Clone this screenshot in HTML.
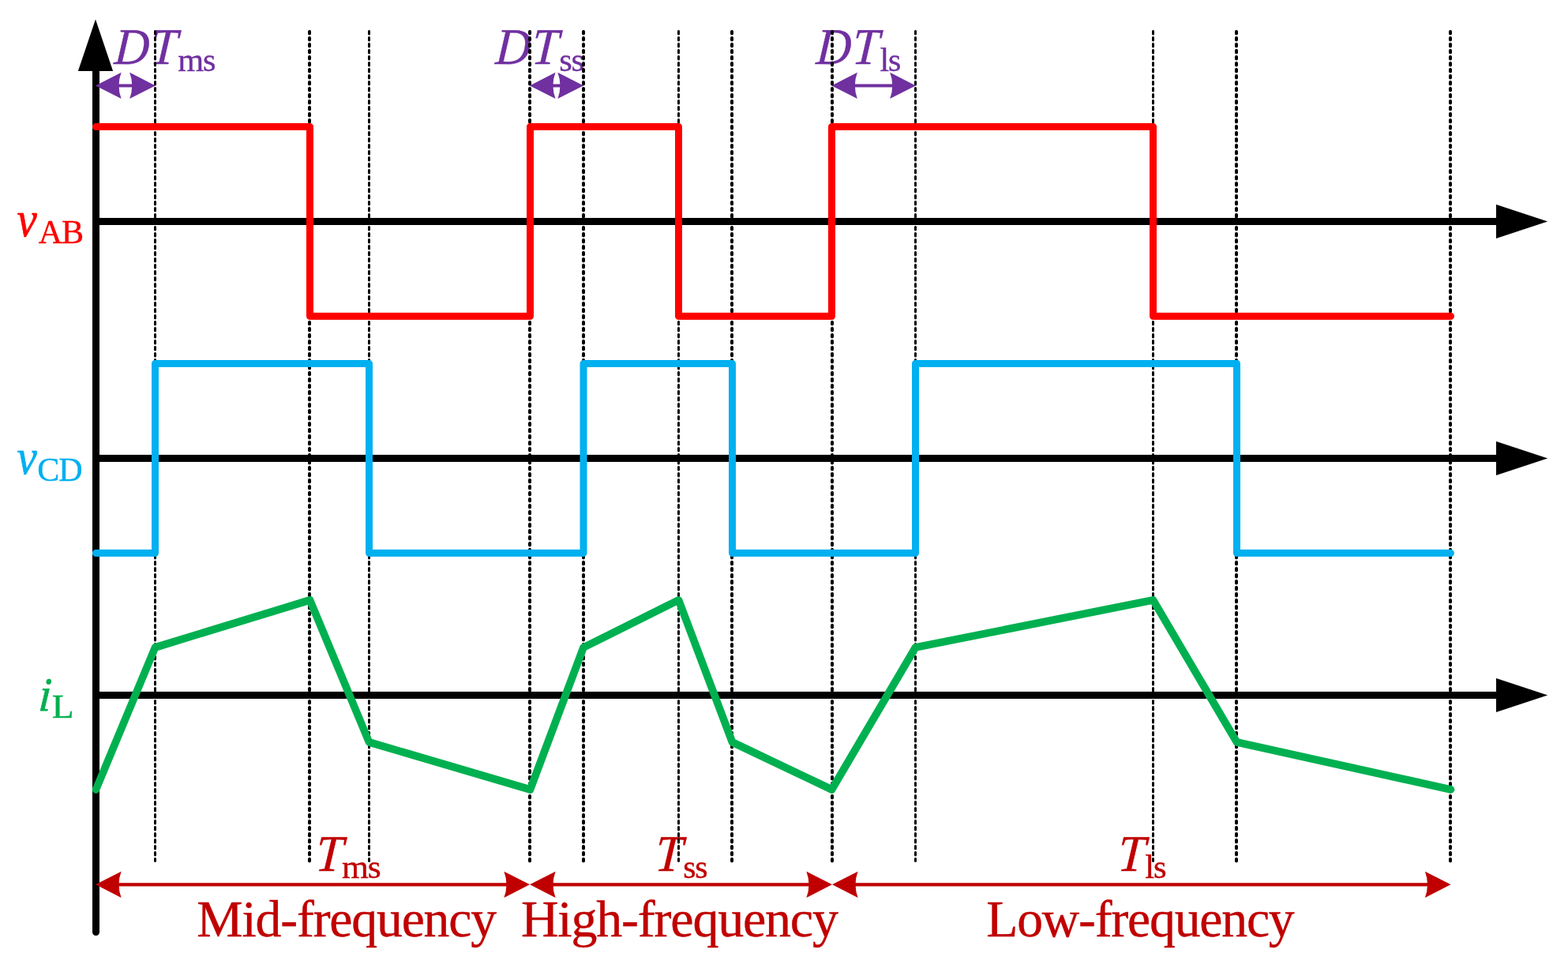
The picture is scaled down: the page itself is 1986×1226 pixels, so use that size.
<!DOCTYPE html>
<html lang="en">
<head>
<meta charset="utf-8">
<title>Waveforms</title>
<style>
html,body{margin:0;padding:0;background:#fff;}
body{width:1986px;height:1226px;overflow:hidden;}
svg{display:block;}
text{font-family:"Liberation Serif",serif;}
.i{font-style:italic;}
</style>
</head>
<body>
<svg width="1986" height="1226" viewBox="0 0 1986 1226">
<rect width="1986" height="1226" fill="#fff"/>
<g stroke="#000" stroke-width="9" fill="#000">
<line x1="121.5" y1="85" x2="121.5" y2="1180.6" stroke-linecap="round"/>
<polygon points="121,24.6 98.9,90 143.1,90" stroke="none"/>
<line x1="121.5" y1="280.5" x2="1900" y2="280.5"/>
<polygon points="1960.2,280.5 1895,258.9 1895,302.1" stroke="none"/>
<line x1="121.5" y1="580.5" x2="1900" y2="580.5"/>
<polygon points="1960.2,580.5 1895,558.9 1895,602.1" stroke="none"/>
<line x1="121.5" y1="880.5" x2="1900" y2="880.5"/>
<polygon points="1960.2,880.5 1895,858.9 1895,902.1" stroke="none"/>
</g>
<line x1="131.0" y1="108.4" x2="186.8" y2="108.4" stroke="#7030A0" stroke-width="4.0"/>
<path d="M121.0,108.4 L153.6,91.8 Q147.4,108.4 153.6,125.0 Z" fill="#7030A0"/>
<path d="M196.8,108.4 L164.2,91.8 Q170.4,108.4 164.2,125.0 Z" fill="#7030A0"/>
<line x1="680.9" y1="108.4" x2="729.0" y2="108.4" stroke="#7030A0" stroke-width="4.0"/>
<path d="M670.9,108.4 L703.5,91.8 Q697.3,108.4 703.5,125.0 Z" fill="#7030A0"/>
<path d="M739.0,108.4 L706.4,91.8 Q712.6,108.4 706.4,125.0 Z" fill="#7030A0"/>
<line x1="1063.3" y1="108.4" x2="1149.8" y2="108.4" stroke="#7030A0" stroke-width="4.0"/>
<path d="M1053.3,108.4 L1085.9,91.8 Q1079.7,108.4 1085.9,125.0 Z" fill="#7030A0"/>
<path d="M1159.8,108.4 L1127.2,91.8 Q1133.4,108.4 1127.2,125.0 Z" fill="#7030A0"/>
<line x1="131.0" y1="1120.3" x2="661.0" y2="1120.3" stroke="#C00000" stroke-width="4.2"/>
<path d="M121.0,1120.3 L153.6,1103.7 Q147.4,1120.3 153.6,1136.9 Z" fill="#C00000"/>
<path d="M671.0,1120.3 L638.4,1103.7 Q644.6,1120.3 638.4,1136.9 Z" fill="#C00000"/>
<line x1="681.0" y1="1120.3" x2="1044.0" y2="1120.3" stroke="#C00000" stroke-width="4.2"/>
<path d="M671.0,1120.3 L703.6,1103.7 Q697.4,1120.3 703.6,1136.9 Z" fill="#C00000"/>
<path d="M1054.0,1120.3 L1021.4,1103.7 Q1027.6,1120.3 1021.4,1136.9 Z" fill="#C00000"/>
<line x1="1064.0" y1="1120.3" x2="1827.5" y2="1120.3" stroke="#C00000" stroke-width="4.2"/>
<path d="M1054.0,1120.3 L1086.6,1103.7 Q1080.4,1120.3 1086.6,1136.9 Z" fill="#C00000"/>
<path d="M1837.5,1120.3 L1804.9,1103.7 Q1811.1,1120.3 1804.9,1136.9 Z" fill="#C00000"/>
<text transform="translate(144.07,80.80) scale(0.9335,1.0000) skewX(-4)" fill="#7030A0" stroke="#7030A0" stroke-width="0.40" font-size="65.2" letter-spacing="1.7px" class="i">DT</text>
<text transform="translate(225.31,90.00) scale(0.9917,1.0000)" fill="#7030A0" stroke="#7030A0" stroke-width="0.40" font-size="42.7" letter-spacing="-1.2px">ms</text>
<text transform="translate(626.87,80.80) scale(0.9356,1.0000) skewX(-4)" fill="#7030A0" stroke="#7030A0" stroke-width="0.40" font-size="65.2" letter-spacing="1.7px" class="i">DT</text>
<text transform="translate(708.26,90.00) scale(0.9956,1.0000)" fill="#7030A0" stroke="#7030A0" stroke-width="0.40" font-size="42.7" letter-spacing="-1.2px">ss</text>
<text transform="translate(1032.97,80.80) scale(0.9346,1.0000) skewX(-4)" fill="#7030A0" stroke="#7030A0" stroke-width="0.40" font-size="65.2" letter-spacing="1.7px" class="i">DT</text>
<text transform="translate(1114.46,90.00) scale(0.9846,1.0000)" fill="#7030A0" stroke="#7030A0" stroke-width="0.40" font-size="42.7" letter-spacing="-1.2px">ls</text>
<text transform="translate(21.45,299.05) scale(0.8740,0.9658)" fill="#FF0000" stroke="#FF0000" stroke-width="0.70" font-size="65.2" class="i">v</text>
<text transform="translate(48.78,307.90) scale(0.9860,1.0000)" fill="#FF0000" stroke="#FF0000" stroke-width="0.40" font-size="42.7" letter-spacing="-1.2px">AB</text>
<text transform="translate(21.45,599.95) scale(0.8740,0.9592)" fill="#00B0F0" stroke="#00B0F0" stroke-width="0.70" font-size="65.2" class="i">v</text>
<text transform="translate(47.27,608.70) scale(0.9865,1.0000)" fill="#00B0F0" stroke="#00B0F0" stroke-width="0.40" font-size="42.7" letter-spacing="-1.2px">CD</text>
<text transform="translate(48.24,900.20) scale(0.8380,0.9223) skewX(-5)" fill="#00B050" stroke="#00B050" stroke-width="1.00" font-size="65.2" class="i">i</text>
<text transform="translate(65.78,908.70) scale(1.0680,1.0000)" fill="#00B050" stroke="#00B050" stroke-width="0.40" font-size="42.7">L</text>
<text transform="translate(398.75,1102.80) scale(0.9529,1.0000) skewX(-4)" fill="#C00000" stroke="#C00000" stroke-width="0.40" font-size="65.2" class="i">T</text>
<text transform="translate(433.09,1111.90) scale(1.0198,1.0000)" fill="#C00000" stroke="#C00000" stroke-width="0.40" font-size="42.7" letter-spacing="-1.2px">ms</text>
<text transform="translate(828.75,1102.80) scale(0.9529,1.0000) skewX(-4)" fill="#C00000" stroke="#C00000" stroke-width="0.40" font-size="65.2" class="i">T</text>
<text transform="translate(865.29,1111.90) scale(0.9782,1.0000)" fill="#C00000" stroke="#C00000" stroke-width="0.40" font-size="42.7" letter-spacing="-1.2px">ss</text>
<text transform="translate(1414.75,1102.80) scale(0.9542,1.0000) skewX(-4)" fill="#C00000" stroke="#C00000" stroke-width="0.40" font-size="65.2" class="i">T</text>
<text transform="translate(1450.35,1111.90) scale(1.0007,1.0000)" fill="#C00000" stroke="#C00000" stroke-width="0.40" font-size="42.7" letter-spacing="-1.2px">ls</text>
<text transform="translate(249.29,1185.80) scale(1.0087,1.0000)" fill="#C00000" stroke="#C00000" stroke-width="0.40" font-size="65.2" letter-spacing="-1.2px">Mid-frequency</text>
<text transform="translate(659.89,1185.80) scale(1.0125,1.0000)" fill="#C00000" stroke="#C00000" stroke-width="0.40" font-size="65.2" letter-spacing="-1.2px">High-frequency</text>
<text transform="translate(1249.29,1185.80) scale(1.0078,1.0000)" fill="#C00000" stroke="#C00000" stroke-width="0.40" font-size="65.2" letter-spacing="-1.2px">Low-frequency</text>
<g stroke="#000" stroke-linecap="round">
<line x1="196.5" y1="39.5" x2="196.5" y2="1090.5" stroke-width="3" stroke-dasharray="3.4 4.6"/>
<line x1="392" y1="40" x2="392" y2="1090.5" stroke-width="4" stroke-dasharray="2.4 5.6"/>
<line x1="467.5" y1="39.5" x2="467.5" y2="1090.5" stroke-width="3" stroke-dasharray="3.4 4.6"/>
<line x1="671" y1="40" x2="671" y2="1090.5" stroke-width="4" stroke-dasharray="2.4 5.6"/>
<line x1="739" y1="40" x2="739" y2="1090.5" stroke-width="4" stroke-dasharray="2.4 5.6"/>
<line x1="859.5" y1="39.5" x2="859.5" y2="1090.5" stroke-width="3" stroke-dasharray="3.4 4.6"/>
<line x1="927" y1="40" x2="927" y2="1090.5" stroke-width="4" stroke-dasharray="2.4 5.6"/>
<line x1="1054" y1="40" x2="1054" y2="1090.5" stroke-width="4" stroke-dasharray="2.4 5.6"/>
<line x1="1159.5" y1="39.5" x2="1159.5" y2="1090.5" stroke-width="3" stroke-dasharray="3.4 4.6"/>
<line x1="1460.5" y1="39.5" x2="1460.5" y2="1090.5" stroke-width="3" stroke-dasharray="3.4 4.6"/>
<line x1="1566" y1="40" x2="1566" y2="1090.5" stroke-width="4" stroke-dasharray="2.4 5.6"/>
<line x1="1837" y1="40" x2="1837" y2="1090.5" stroke-width="4" stroke-dasharray="2.4 5.6"/>
</g>
<polyline points="121.5,160.5 392.5,160.5 392.5,400.5 671.5,400.5 671.5,160.5 859.5,160.5 859.5,400.5 1053.5,400.5 1053.5,160.5 1460.5,160.5 1460.5,400.5 1837.5,400.5" fill="none" stroke="#FF0000" stroke-width="9" stroke-linejoin="round" stroke-linecap="round"/>
<polyline points="121.5,700.5 196.5,700.5 196.5,460.5 467.5,460.5 467.5,700.5 739.0,700.5 739.0,460.5 927.5,460.5 927.5,700.5 1159.5,700.5 1159.5,460.5 1566.5,460.5 1566.5,700.5 1837.5,700.5" fill="none" stroke="#00B0F0" stroke-width="9" stroke-linejoin="round" stroke-linecap="round"/>
<polyline points="121.5,1000.0 196.5,820.0 392.5,760.0 467.5,940.0 671.5,1000.0 739.0,820.0 859.5,760.0 927.5,940.0 1053.5,1000.0 1159.5,820.0 1460.5,760.0 1566.5,940.0 1837.5,1000.0" fill="none" stroke="#00B050" stroke-width="9.7" stroke-linejoin="round" stroke-linecap="round"/>
</svg>
</body>
</html>
